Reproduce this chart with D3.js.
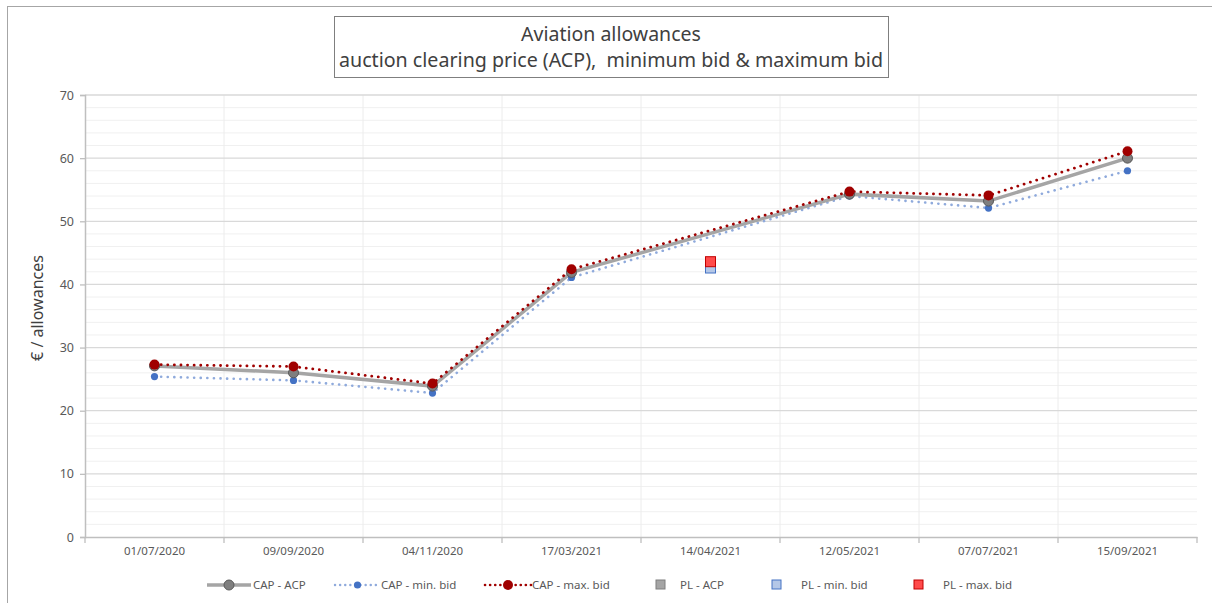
<!DOCTYPE html>
<html><head><meta charset="utf-8">
<script src="https://cdn.jsdelivr.net/npm/d3@7/dist/d3.min.js"></script>
<style>body{margin:0;background:#fff;} text{font-family:"Noto Sans","Liberation Sans",sans-serif;}</style>
</head><body><svg id="c" width="1212" height="603"></svg>
<script>
const categories = ["01/07/2020","09/09/2020","04/11/2020","17/03/2021","14/04/2021","12/05/2021","07/07/2021","15/09/2021"];
const capACP = [27.1, 26.0, 23.9, 41.9, null, 54.3, 53.2, 60.0];
const capMin = [25.4, 24.8, 22.8, 41.1, null, 54.0, 52.1, 58.0];
const capMax = [27.3, 27.0, 24.3, 42.4, null, 54.7, 54.1, 61.1];
const plACP = [null, null, null, null, 42.8, null, null, null];
const plMin = [null, null, null, null, 42.6, null, null, null];
const plMax = [null, null, null, null, 43.6, null, null, null];
const yTicks = [0,10,20,30,40,50,60,70];
const titleLines = ["Aviation allowances","auction clearing price (ACP),  minimum bid & maximum bid"];
const yLabel = "€ / allowances";

const svg = d3.select("#c");
svg.append("rect").attr("x",7.5).attr("y",6.5).attr("width",1210).attr("height",600).attr("fill","none").attr("stroke","#a6a6a6");

const L=85, R=1197, T=95, B=537;
const x = d3.scaleBand().domain(categories).range([L,R]);
const y = d3.scaleLinear().domain([0,70]).range([B,T]);
const g = svg.append("g");

d3.range(0,70,2).filter(v=>v%10!==0).forEach(v=>{
  g.append("line").attr("x1",L).attr("x2",R).attr("y1",y(v)).attr("y2",y(v)).attr("stroke","#f0f0f0").attr("stroke-width",1);
});
categories.forEach((c,i)=>{ if(i>0) g.append("line").attr("x1",x(c)).attr("x2",x(c)).attr("y1",T).attr("y2",B).attr("stroke","#ececec"); });
yTicks.forEach(v=>{ if(v>0) g.append("line").attr("x1",L).attr("x2",R).attr("y1",y(v)).attr("y2",y(v)).attr("stroke","#d9d9d9").attr("stroke-width",1.3); });

const ya = g.append("g").attr("transform",`translate(${L},0)`).call(d3.axisLeft(y).tickValues(yTicks).tickSize(5).tickPadding(6));
ya.select(".domain").attr("stroke","#bfbfbf").attr("stroke-width",1.5);
ya.selectAll(".tick line").attr("stroke","#bfbfbf").attr("stroke-width",1.3);
ya.selectAll(".tick text").attr("fill","#595959").style("font-size","12.5px").style("font-family","Noto Sans");
const xa = g.append("g").attr("transform",`translate(0,${B})`).call(d3.axisBottom(x).tickSize(0).tickPadding(10));
xa.select(".domain").attr("stroke","#bfbfbf").attr("stroke-width",1.5);
xa.selectAll(".tick text").attr("fill","#595959").style("font-size","11.5px").style("font-family","Noto Sans");
categories.concat(["end"]).forEach((c,i)=>{
  const xx = i<categories.length ? x(c) : R;
  g.append("line").attr("x1",xx).attr("x2",xx).attr("y1",B).attr("y2",B+6).attr("stroke","#bfbfbf").attr("stroke-width",1.3);
});

svg.append("text").attr("transform",`translate(43,308) rotate(-90)`).attr("text-anchor","middle")
  .attr("fill","#404040").style("font-size","16px").text(yLabel);

const cx = i => x(categories[i]) + x.bandwidth()/2;
function series(vals){ return vals.map((v,i)=>({i,v})).filter(d=>d.v!=null); }
const line = d3.line().x(d=>cx(d.i)).y(d=>y(d.v));

g.append("path").datum(series(capMin)).attr("d",line).attr("fill","none").attr("stroke","#8faadc").attr("stroke-width",2.6)
  .attr("stroke-dasharray","0.1 6.5").attr("stroke-linecap","round");
g.append("path").datum(series(capACP)).attr("d",line).attr("fill","none").attr("stroke","#a5a5a5").attr("stroke-width",3.5);
g.append("path").datum(series(capMax)).attr("d",line).attr("fill","none").attr("stroke","#a00000").attr("stroke-width",2.8)
  .attr("stroke-dasharray","0.1 6.5").attr("stroke-linecap","round");

g.selectAll(".mmin").data(series(capMin)).join("circle").attr("cx",d=>cx(d.i)).attr("cy",d=>y(d.v)).attr("r",3.6).attr("fill","#4472c4");
g.selectAll(".macp").data(series(capACP)).join("circle").attr("cx",d=>cx(d.i)).attr("cy",d=>y(d.v)).attr("r",5).attr("fill","#7f7f7f").attr("stroke","#595959").attr("stroke-width",1);
g.selectAll(".mmax").data(series(capMax)).join("circle").attr("cx",d=>cx(d.i)).attr("cy",d=>y(d.v)).attr("r",5).attr("fill","#a00000");

const sq = 10;
function squares(vals, fill, stroke){
  g.selectAll(null).data(series(vals)).join("rect").attr("x",d=>cx(d.i)-sq/2).attr("y",d=>y(d.v)-sq/2).attr("width",sq).attr("height",sq)
   .attr("fill",fill).attr("stroke",stroke).attr("stroke-width",1);
}
squares(plACP,"#a5a5a5","#7f7f7f");
squares(plMin,"#b4c7e7","#4472c4");
squares(plMax,"#ff4b4b","#c00000");

svg.append("rect").attr("x",334.5).attr("y",16.5).attr("width",554).attr("height",61).attr("fill","#fff").attr("stroke","#7f7f7f");
titleLines.forEach((t,i)=>{
  svg.append("text").attr("x",611).attr("y",41+i*26).attr("text-anchor","middle").attr("fill","#404040")
    .style("white-space","pre").attr("xml:space","preserve")
    .style("font-size","19.5px").attr("textLength", i===1?544:null).attr("lengthAdjust","spacingAndGlyphs").text(t);
});

const ly = 585;
const lg = svg.append("g").style("font-size","11.5px");
function legLine(x1,x2,stroke,sw,dash,mr,mfill,mstroke){
  const l = lg.append("line").attr("x1",x1).attr("x2",x2).attr("y1",ly).attr("y2",ly).attr("stroke",stroke).attr("stroke-width",sw);
  if(dash) l.attr("stroke-dasharray",dash).attr("stroke-linecap","round");
  lg.append("circle").attr("cx",(x1+x2)/2).attr("cy",ly).attr("r",mr).attr("fill",mfill).attr("stroke",mstroke||"none");
}
function legText(xx,t){ lg.append("text").attr("x",xx).attr("y",ly+4).attr("fill","#595959").text(t); }
legLine(207,251,"#a5a5a5",3.5,null,5,"#7f7f7f","#595959"); legText(253,"CAP - ACP");
legLine(335,380,"#8faadc",2.4,"0.1 5",3.6,"#4472c4"); legText(381,"CAP - min. bid");
legLine(485,531,"#a00000",2.6,"0.1 5",5,"#a00000"); legText(532,"CAP - max. bid");
function legSq(xx,fill,stroke){ lg.append("rect").attr("x",xx-4).attr("y",ly-5).attr("width",9).attr("height",9).attr("fill",fill).attr("stroke",stroke); }
legSq(660,"#a5a5a5","#7f7f7f"); legText(680,"PL - ACP");
legSq(776,"#b4c7e7","#4472c4"); legText(801,"PL - min. bid");
legSq(918,"#ff4b4b","#c00000"); legText(943,"PL - max. bid");
</script></body></html>
